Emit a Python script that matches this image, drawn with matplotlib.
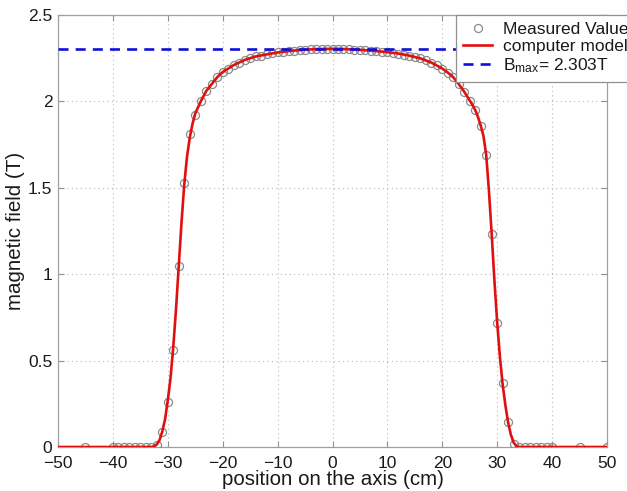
import matplotlib
matplotlib.use("Agg")
import matplotlib.pyplot as plt

plt.rcParams['font.family'] = ['Liberation Sans', 'DejaVu Sans']
plt.rcParams['mathtext.fontset'] = 'custom'
plt.rcParams['mathtext.rm'] = 'Liberation Sans'
plt.rcParams['mathtext.it'] = 'Liberation Sans'

# Measured values (position in cm, field in T)
meas_x = [-45, -40, -39, -38, -37, -36, -35, -34, -33, -32, -31, -30, -29, -28, -27, -26,
          -25, -24, -23, -22, -21, -20, -19, -18, -17, -16, -15, -14, -13, -12, -11, -10,
          -9, -8, -7, -6, -5, -4, -3, -2, -1, 0, 1, 2, 3, 4, 5, 6, 7, 8, 9, 10,
          11, 12, 13, 14, 15, 16, 17, 18, 19, 20, 21, 22, 23, 24, 25, 26, 27, 28, 29, 30,
          31, 32, 33, 34, 35, 36, 37, 38, 39, 40, 45, 50]
meas_b = [0, 0, 0, 0, 0, 0, 0, 0, 0, 0.01, 0.085, 0.26, 0.56, 1.05, 1.53, 1.81,
          1.92, 2.00, 2.06, 2.10, 2.14, 2.17, 2.19, 2.21, 2.225, 2.24, 2.25, 2.26, 2.265, 2.272, 2.278, 2.283,
          2.287, 2.291, 2.294, 2.297, 2.299, 2.301, 2.302, 2.303, 2.303, 2.303, 2.303, 2.302, 2.301, 2.300, 2.298, 2.296, 2.294, 2.291, 2.288, 2.285,
          2.281, 2.277, 2.271, 2.265, 2.258, 2.249, 2.238, 2.225, 2.21, 2.19, 2.167, 2.14, 2.10, 2.056, 2.005, 1.95, 1.86, 1.69, 1.23, 0.72,
          0.37, 0.145, 0.02, 0, 0, 0, 0, 0, 0, 0, 0, 0]

# Computer model
model_x = [-50, -40, -35, -33, -32.5, -32, -31.5, -31, -30.5, -30, -29.5, -29, -28.5, -28, -27.5, -27,
           -26.5, -26, -25.5, -25, -24, -23, -22, -21, -20, -18, -16, -14, -12, -10, -8, -6, -4, -2,
           0, 2, 4, 6, 8, 10, 12, 14, 16, 18, 20, 21, 22, 23, 24, 25, 25.5, 26, 26.5, 27, 27.5,
           28, 28.5, 29, 29.5, 30, 30.5, 31, 31.5, 32, 32.5, 33, 33.5, 34, 40, 50]
model_b = [0, 0, 0, 0, 0.004, 0.015, 0.04, 0.09, 0.16, 0.27, 0.40, 0.58, 0.80, 1.05, 1.30, 1.52,
           1.68, 1.79, 1.87, 1.93, 2.00, 2.06, 2.10, 2.14, 2.17, 2.21, 2.24, 2.26, 2.272, 2.283, 2.291, 2.297, 2.301, 2.303,
           2.304, 2.303, 2.300, 2.296, 2.291, 2.285, 2.277, 2.265, 2.249, 2.225, 2.19, 2.167, 2.14, 2.10, 2.056, 2.005, 1.98, 1.95, 1.91, 1.86, 1.80,
           1.69, 1.48, 1.23, 0.96, 0.72, 0.52, 0.36, 0.24, 0.14, 0.07, 0.025, 0.005, 0, 0, 0]

bmax = 2.303
xticks = [-50, -40, -30, -20, -10, 0, 10, 20, 30, 40, 50]
yticks = [0, 0.5, 1, 1.5, 2, 2.5]

W, H = 627, 491
fig = plt.figure(figsize=(W / 100, H / 100), dpi=100)
ax = fig.add_axes([58 / W, 1 - 447 / H, (607 - 58) / W, (447 - 15) / H])

ax.plot(meas_x, meas_b, linestyle='none', marker='o', markersize=5.8,
        markerfacecolor='none', markeredgecolor='#8a8a8a', markeredgewidth=0.9,
        label='Measured Value', zorder=3)
ax.plot(model_x, model_b, color='#e01010', linewidth=1.9, label='computer model', zorder=4)
ax.plot([-50, 50], [bmax, bmax], color='#1010d8', linewidth=1.9, linestyle=(0, (3.8, 2.7)),
        label=r'B$_{\mathrm{max}}$= 2.303T', zorder=5)

ax.set_xlim(-50, 50)
ax.set_ylim(0, 2.5)
ax.set_xticks(xticks)
ax.set_yticks(yticks)
ax.set_xticklabels([str(t).replace('-', '\u2212') for t in xticks])
ax.set_yticklabels(['0', '0.5', '1', '1.5', '2', '2.5'])
ax.grid(True, linestyle=(0, (1, 3)), color='#b8b8b8', linewidth=0.8)
ax.tick_params(direction='in', length=4, width=0.8, color='#909090', top=True, right=True,
               labelsize=12.5, labelcolor='#1a1a1a')
ax.tick_params(axis='x', pad=6.5)
ax.tick_params(axis='y', pad=4)
for s in ax.spines.values():
    s.set_color('#a0a0a0')
    s.set_linewidth(0.9)

ax.set_xlabel('position on the axis (cm)', fontsize=14.8, color='#1a1a1a', labelpad=-0.5)
ax.set_ylabel('magnetic field (T)', fontsize=14.8, color='#1a1a1a', labelpad=2)

leg = ax.legend(loc='upper left', bbox_to_anchor=(456 / W, 1 - 15 / H),
                bbox_transform=fig.transFigure, fontsize=12.5, frameon=True, fancybox=False,
                framealpha=1, edgecolor='#909090', borderpad=0.4, labelspacing=0.12,
                handlelength=1.7, handletextpad=0.6, borderaxespad=0)
leg.get_frame().set_linewidth(0.9)
for t in leg.get_texts():
    t.set_color('#1a1a1a')

fig.savefig('out.png', dpi=100)
